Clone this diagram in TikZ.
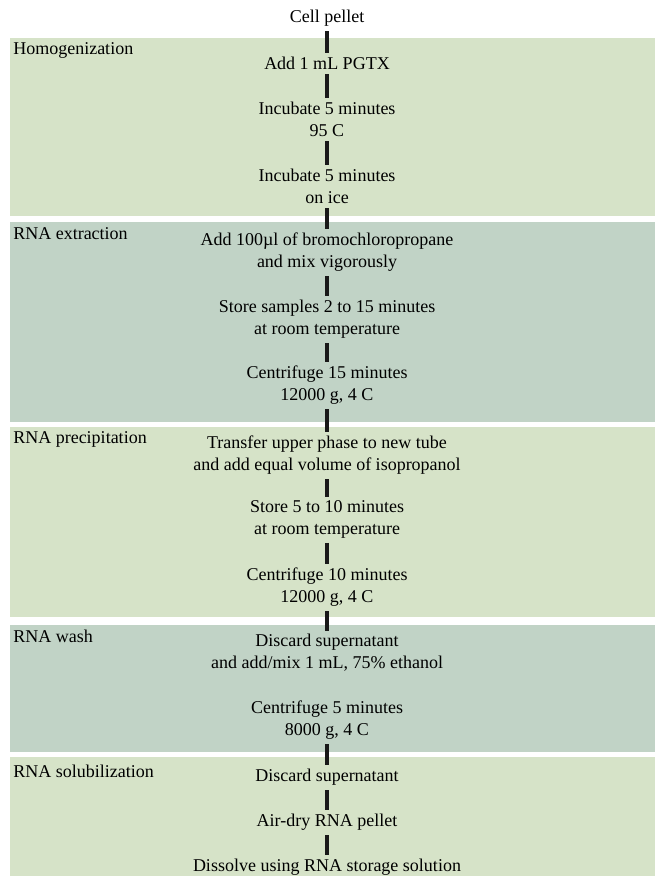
\documentclass[tikz,border=0pt]{standalone}
\usepackage{fontspec}
\setmainfont{Liberation Serif}
\definecolor{bandlight}{HTML}{D6E3C8}
\definecolor{banddark}{HTML}{C1D3C6}

\begin{document}
\begin{tikzpicture}[x=0.75pt,y=-0.75pt,
  protocol step/.style={align=center,font=\fontsize{13.5}{16.5}\selectfont,inner sep=1pt},
  stage label/.style={anchor=west,font=\fontsize{13.5}{16.5}\selectfont,inner sep=0pt},
  link/.style={line width=2.4pt,draw=black!90,shorten <=2.5pt,shorten >=1.5pt}]
  \useasboundingbox (0,0) rectangle (655,876);
  %bands
  \fill[bandlight] (10,38) rectangle (655,216);
  \fill[banddark] (10,222) rectangle (655,422);
  \fill[bandlight] (10,427) rectangle (655,617);
  \fill[banddark] (10,625) rectangle (655,752);
  \fill[bandlight] (10,757) rectangle (655,876);

  %stage labels
  \node[stage label] (homog) at (13,50) {Homogenization};
  \node[stage label] (extract) at (13,234) {RNA extraction};
  \node[stage label] (precip) at (13,439) {RNA precipitation};
  \node[stage label] (wash) at (13,636) {RNA wash};
  \node[stage label] (solub) at (13,771) {RNA solubilization};

  %steps
  \node[protocol step] (cell) at (327,18) {Cell pellet};
  \node[protocol step] (pgtx) at (327,63) {Add 1 mL PGTX};
  \node[protocol step] (heat) at (327,119) {Incubate 5 minutes\\95 C};
  \node[protocol step] (ice) at (327,186) {Incubate 5 minutes\\on ice};
  \node[protocol step] (bcp) at (327,252) {Add 100µl of bromochloropropane\\and mix vigorously};
  \node[protocol step] (rest) at (327,319) {Store samples 2 to 15 minutes\\at room temperature};
  \node[protocol step] (spin15) at (327,385) {Centrifuge 15 minutes\\12000 g, 4 C};
  \node[protocol step] (transfer) at (327,455) {Transfer upper phase to new tube\\and add equal volume of isopropanol};
  \node[protocol step] (rest10) at (327,519) {Store 5 to 10 minutes\\at room temperature};
  \node[protocol step] (spin10) at (327,587) {Centrifuge 10 minutes\\12000 g, 4 C};
  \node[protocol step] (ethanol) at (327,653) {Discard supernatant\\and add/mix 1 mL, 75\% ethanol};
  \node[protocol step] (spin5) at (327,720) {Centrifuge 5 minutes\\8000 g, 4 C};
  \node[protocol step] (discard) at (327,777) {Discard supernatant};
  \node[protocol step] (dry) at (327,822) {Air-dry RNA pellet};
  \node[protocol step] (dissolve) at (327,867) {Dissolve using RNA storage solution};

  %links
  \draw[link] (cell) -- (pgtx);
  \draw[link] (pgtx) -- (heat);
  \draw[link] (heat) -- (ice);
  \draw[link] (ice) -- (bcp);
  \draw[link] (bcp) -- (rest);
  \draw[link] (rest) -- (spin15);
  \draw[link] (spin15) -- (transfer);
  \draw[link] (transfer) -- (rest10);
  \draw[link] (rest10) -- (spin10);
  \draw[link] (spin10) -- (ethanol);
  \draw[link] (spin5) -- (discard);
  \draw[link] (discard) -- (dry);
  \draw[link] (dry) -- (dissolve);
\end{tikzpicture}
\end{document}
